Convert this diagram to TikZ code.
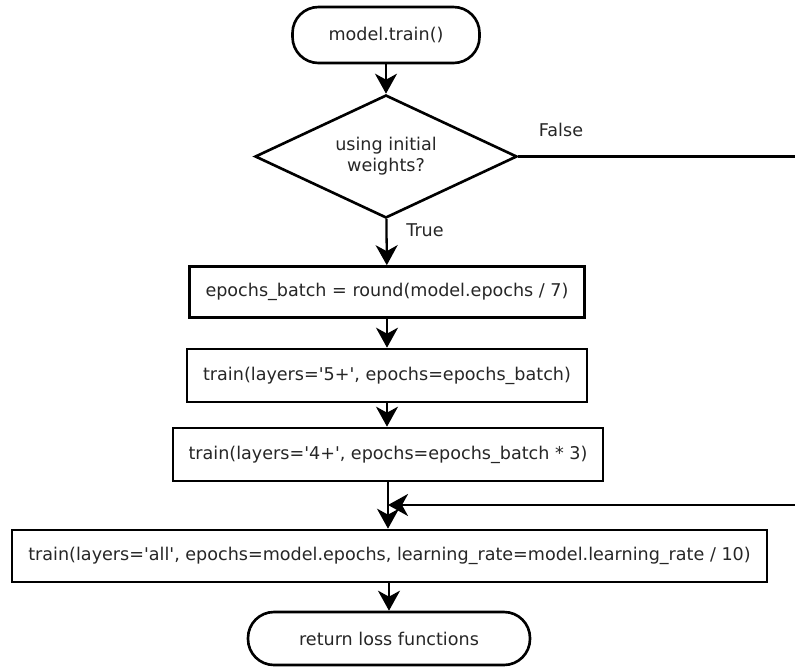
\documentclass[tikz,border=0pt]{standalone}
\usepackage{fontspec}
\setmainfont{DejaVu Sans}
\usetikzlibrary{shapes.geometric,arrows.meta}

\newcommand{\squote}{\textquotesingle}

\tikzset{
	block/.style={draw, line width=1.5pt, text=black!85, inner sep=0pt},
	term/.style={draw, line width=1.5pt, text=black!85, rounded corners=0.52cm, inner sep=0pt},
	decision/.style={draw, diamond, aspect=2.13, line width=1.5pt, text=black!85, minimum width=5.24cm, minimum height=2.46cm, inner sep=0pt, align=center},
	lbl/.style={text=black!85, inner sep=0pt},
	flow/.style={line width=1.3pt, -{Stealth[length=4mm, width=4.4mm, inset=1.2mm]}}
}

\begin{document}
\begin{tikzpicture}[font=\fontsize{10}{12}\selectfont]
	\useasboundingbox (0,0) rectangle (15.9,-13.36);
	\clip (0,0) rectangle (15.9,-13.36);

	% Start and decision
	\node[term, minimum width=3.74cm, minimum height=1.12cm] (start) at (7.72,-0.70) {model.train()};
	\node[decision] (weights) at (7.72,-3.13) {using initial\\weights?};
	\node[lbl] (falselbl) at (11.22,-2.6) {False};
	\node[lbl] (truelbl) at (8.5,-4.6) {True};

	% Training steps
	\node[block, minimum width=7.9cm, minimum height=1.02cm] (batch) at (7.74,-5.84) {epochs\_batch = round(model.epochs / 7)};
	\node[block, minimum width=8.0cm, minimum height=1.06cm] (five) at (7.74,-7.51) {train(layers=\squote5+\squote, epochs=epochs\_batch)};
	\node[block, minimum width=8.6cm, minimum height=1.06cm] (four) at (7.76,-9.09) {train(layers=\squote4+\squote, epochs=epochs\_batch * 3)};
	\node[block, minimum width=15.1cm, minimum height=1.04cm] (all) at (7.79,-11.12) {train(layers=\squote all\squote, epochs=model.epochs, learning\_rate=model.learning\_rate / 10)};

	% End
	\node[term, minimum width=5.64cm, minimum height=1.06cm] (loss) at (7.78,-12.77) {return loss functions};

	\coordinate (merge) at (7.76,-10.1);
	\coordinate (offside) at (16.5,-10.1);

	% Arrows
	\draw[flow] (start) -- (weights);
	\draw[flow] (weights) -- (batch);
	\draw[flow] (batch) -- (five);
	\draw[flow] (five) -- (five |- four.north);
	\draw[flow] (four.south) -- (four.south |- all.north);
	\draw[flow] (weights.east) -| (offside) -- (merge);
	\draw[flow] (all.south -| loss.north) -- (loss.north);
\end{tikzpicture}
\end{document}
